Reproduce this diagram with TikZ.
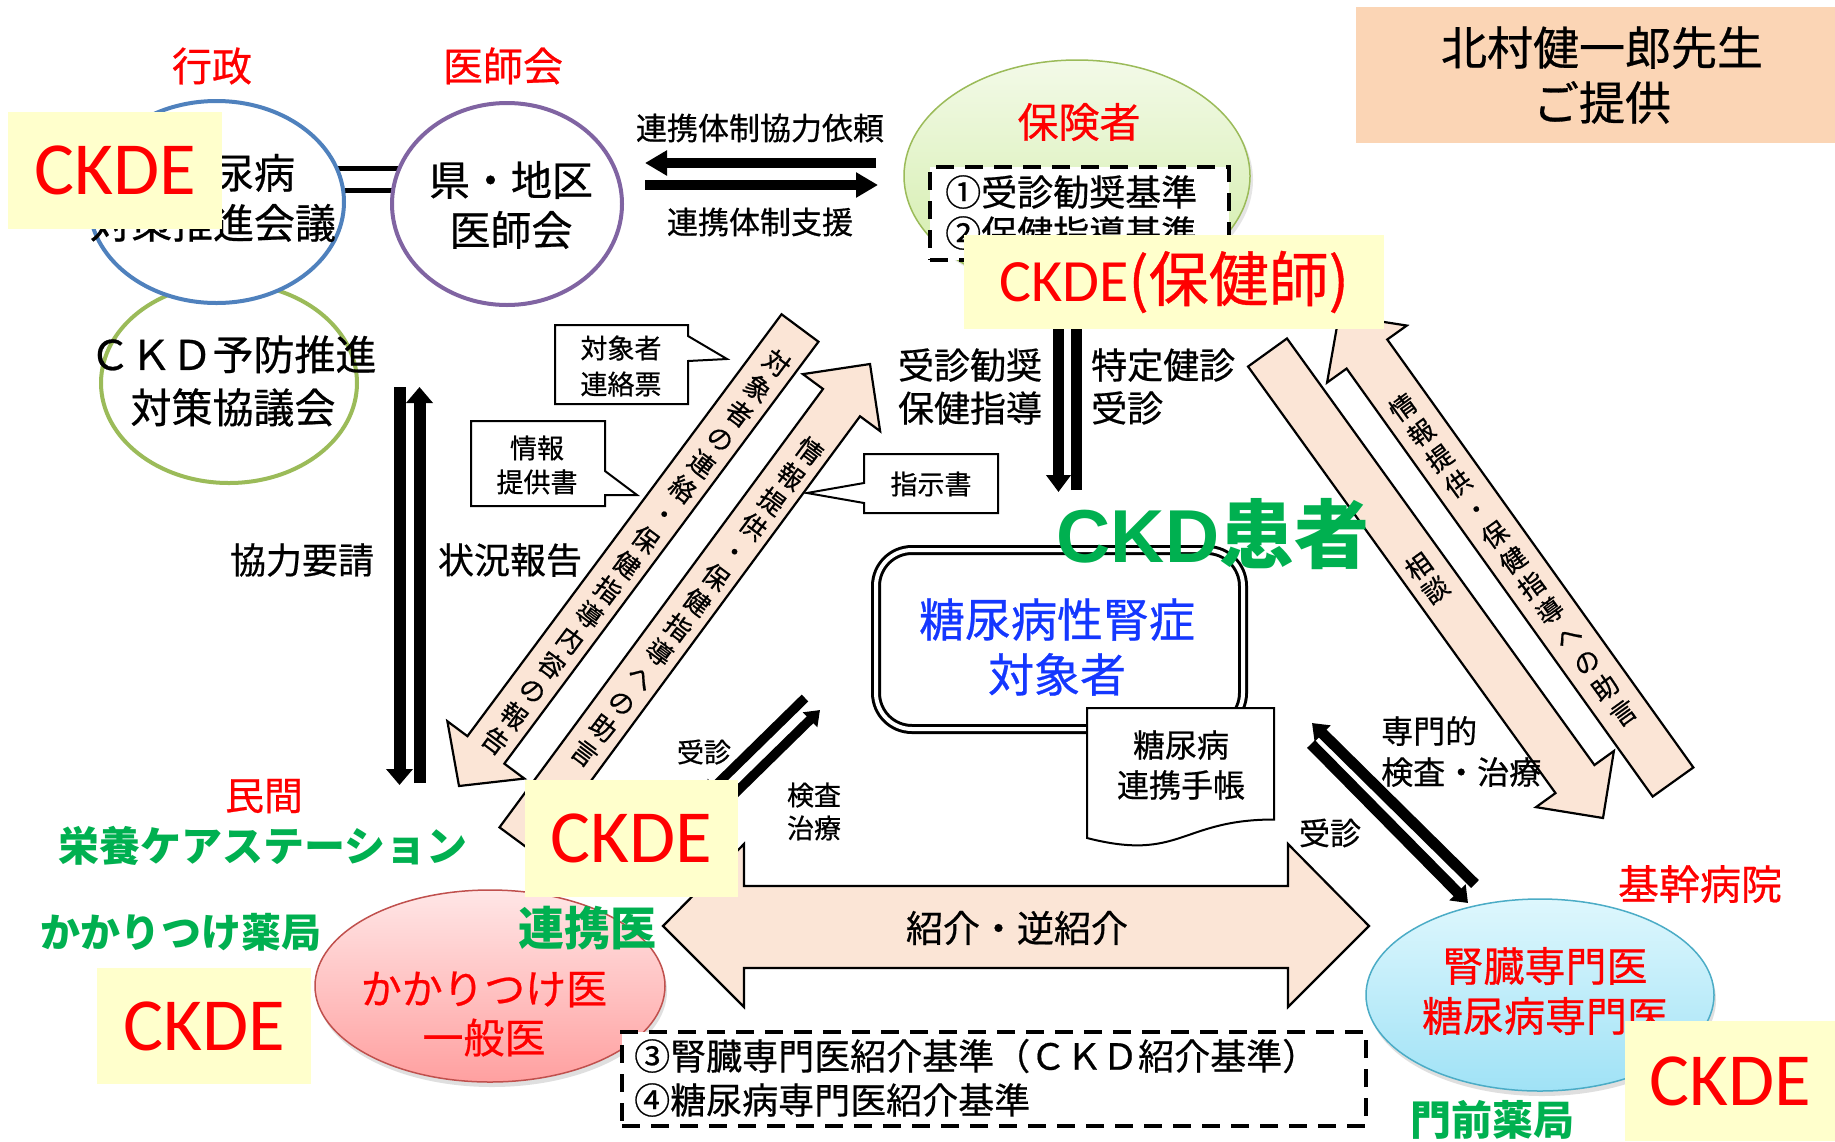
\documentclass[tikz,border=0pt]{standalone}
\usepackage{fontspec}
\setmainfont{Noto Sans CJK JP}[UprightFeatures={FakeBold=0.6}]
\newfontfamily\carl{Carlito}
\newfontfamily\arialf{Liberation Sans}
\usetikzlibrary{calc,arrows.meta,shapes.geometric,shadows}
\definecolor{ckdered}{RGB}{255,0,0}
\definecolor{ckdgreen}{RGB}{0,176,80}
\definecolor{ckdblue}{RGB}{20,55,255}
\definecolor{ckdeyel}{RGB}{255,255,204}
\definecolor{peach}{RGB}{251,229,214}
\definecolor{peachbox}{RGB}{251,213,181}
\definecolor{ellblue}{RGB}{79,129,189}
\definecolor{ellpurple}{RGB}{128,100,162}
\definecolor{ellgreen}{RGB}{155,187,89}
\definecolor{pinkborder}{RGB}{192,80,77}
\definecolor{cyanborder}{RGB}{75,172,198}
\definecolor{hokentop}{RGB}{243,250,232}
\definecolor{hokenbot}{RGB}{208,236,165}
\definecolor{pinktop}{RGB}{255,230,230}
\definecolor{pinkbot}{RGB}{255,160,160}
\definecolor{cyantop}{RGB}{222,247,253}
\definecolor{cyanbot}{RGB}{160,226,246}
\newcommand\fsz[2]{\fontsize{#1}{#2}\selectfont}
\pgfdeclarelayer{bg}
\pgfsetlayers{bg,main}
\newcommand\fatarrow[5]{%
  \path ($(#2)!#5!(#1)$) coordinate (fab);
  \draw[fat] ($(#1)!#3!90:(#2)$) -- ($(fab)!#3!90:(#2)$) -- ($(fab)!#4!90:(#2)$) -- (#2)
    -- ($(fab)!#4!-90:(#2)$) -- ($(fab)!#3!-90:(#2)$) -- ($(#1)!#3!-90:(#2)$) -- cycle;}
\begin{document}
\begin{tikzpicture}[x=1pt,y=-1pt,
  txt/.style={inner sep=0pt, align=center},
  ckdebox/.style={fill=ckdeyel, inner sep=2pt, text=ckdered, font={\carl\fsz{75}{80}}},
  fat/.style={fill=peach, draw=black, line width=2.2pt, line join=miter},
  callout/.style={draw=black, fill=white, line width=2pt},
  dashbox/.style={draw=black, fill=white, line width=4pt, dash pattern=on 18pt off 11pt},
  ring/.style={ellipse, line width=4pt, fill=white, inner sep=0pt},
  pairbar/.style={line width=12pt},
  smallbar/.style={line width=9.5pt},
]
\begin{pgfonlayer}{bg}
\fill[white] (0,0) rectangle (1835,1141);
\end{pgfonlayer}
\useasboundingbox (0,0) rectangle (1835,1141);

% credit box
\node[fill=peachbox, minimum width=479pt, minimum height=136pt, inner sep=0pt, anchor=north west] (credit) at (1356,7) {};
\node[txt, font={\fsz{46}{55}}] (credittxt) at (1602,75) {北村健一郎先生\\ご提供};

% circles top-left
\node[ring, draw=ellgreen, minimum width=256pt, minimum height=200pt] (gcirc) at (229,383) {};
\node[ring, draw=ellblue, minimum width=255pt, minimum height=202pt] (bcirc) at (216.5,202) {};
\node[ring, draw=ellpurple, minimum width=230pt, minimum height=202pt] (pcirc) at (507,204) {};
\begin{pgfonlayer}{bg}
\draw[line width=5pt, double distance=17pt] ([yshift=23pt]bcirc.center) -- ([yshift=25pt]pcirc.center);
\end{pgfonlayer}
\node[txt, font={\fsz{41}{50}}] (btxt) at (213,198) {県糖尿病\\対策推進会議};
\node[txt, font={\fsz{41}{50}}] (ptxt) at (511,205) {県・地区\\医師会};
\node[txt, font={\fsz{41}{53}}] (gtxt) at (233,381) {ＣＫＤ予防推進\\対策協議会};
\node[txt, font={\fsz{40}{48}}, text=ckdered] (gyosei) at (212,66) {行政};
\node[txt, font={\fsz{40}{48}}, text=ckdered] (ishikai) at (503,66) {医師会};

% insurer
\node[ellipse, draw=ellgreen, line width=1.5pt, top color=hokentop, bottom color=hokenbot,
  minimum width=346pt, minimum height=232pt, inner sep=0pt,
  drop shadow={shadow xshift=3pt, shadow yshift=-4pt, opacity=0.2}] (hoken) at (1077,176) {};
\node[txt, font={\fsz{41}{48}}, text=ckdered] (hokentxt) at (1079,122) {保険者};
\node[dashbox, minimum width=299pt, minimum height=93pt, inner sep=0pt, anchor=north west] (crit12) at (928,165) {};
\node[txt, anchor=west, font={\fsz{36}{40}}] (c1) at (945,192) {①受診勧奨基準};
\node[txt, anchor=west, font={\fsz{36}{40}}] (c2) at (945,233) {②保健指導基準};

% horizontal arrows between ishikai and hoken
\coordinate (h1a) at (876,163); \coordinate (h1b) at (645,163);
\coordinate (h2a) at (645,185); \coordinate (h2b) at (878,185);
\draw[line width=10pt, -{Triangle[length=22pt,width=24pt]}] (h1a) -- (h1b);
\draw[line width=10pt, -{Triangle[length=22pt,width=24pt]}] (h2a) -- (h2b);
\node[txt, font={\fsz{31}{36}}] (lreq) at (760,128) {連携体制協力依頼};
\node[txt, font={\fsz{31}{36}}] (lsup) at (760,222) {連携体制支援};

% vertical pair (council)
\coordinate (v1a) at (399.5,387); \coordinate (v1b) at (399.5,785);
\coordinate (v2a) at (419.5,783); \coordinate (v2b) at (419.5,387);
\draw[pairbar, -{Triangle[length=16pt,width=26pt]}] (v1a) -- (v1b);
\draw[pairbar, -{Triangle[length=16pt,width=26pt]}] (v2a) -- (v2b);
\node[txt, font={\fsz{36}{43}}] (kyoryoku) at (302,560) {協力要請};
\node[txt, font={\fsz{36}{43}}] (jokyo) at (510,560) {状況報告};

% vertical pair (insurer -> patient)
\coordinate (w1a) at (1058.5,322); \coordinate (w1b) at (1058.5,492);
\coordinate (w2a) at (1076.5,490); \coordinate (w2b) at (1076.5,322);
\draw[line width=11pt, -{Triangle[length=17pt,width=24pt]}] (w1a) -- (w1b);
\draw[line width=11pt] (w2a) -- (w2b);
\node[txt, font={\fsz{36}{43}}] (kanshou) at (970,386.5) {受診勧奨\\保健指導};
\node[txt, anchor=west, align=left, font={\fsz{36}{43}}] (tokutei) at (1091,386.5) {特定健診\\受診};

% callouts
\draw[callout] (555,325) -- (688,325) -- (688,336) -- (727,359) -- (688,361) -- (688,404) -- (555,404) -- cycle;
\node[txt, font={\fsz{27}{36}}] (renraku) at (621,366) {対象者\\連絡票};
\draw[callout] (471,421) -- (605,421) -- (605,471) -- (637,495) -- (605,495) -- (605,506) -- (471,506) -- cycle;
\node[txt, font={\fsz{27}{34}}] (teikyo) at (537,465) {情報\\提供書};
\draw[callout] (864,454) -- (998,454) -- (998,513) -- (864,513) -- (864,503) -- (807,493) -- (864,483) -- cycle;
\node[txt, font={\fsz{27}{32}}] (shiji) at (931,484) {指示書};

% big diagonal arrows
\coordinate (a1t) at (800,328); \coordinate (a1h) at (459,786);
\fatarrow{a1t}{a1h}{23pt}{48pt}{45pt}
\coordinate (a2t) at (518,841); \coordinate (a2h) at (870,364);
\fatarrow{a2t}{a2h}{23pt}{48pt}{48pt}
\coordinate (a3t) at (1267.5,352.5); \coordinate (a3h) at (1603,818);
\fatarrow{a3t}{a3h}{24pt}{48pt}{48pt}
\coordinate (a4t) at (1673,782); \coordinate (a4h) at (1339,315);
\fatarrow{a4t}{a4h}{25pt}{49pt}{48pt}
\node[txt, font={\fsz{26}{31.4}}, rotate=-36.7] (a1txt) at (636,552)
  {対\\象\\者\\の\\連\\絡\\・\\保\\健\\指\\導\\内\\容\\の\\報\\告};
\node[txt, font={\fsz{26}{31.4}}, rotate=-36.7] (a2txt) at (697,602)
  {情\\報\\提\\供\\・\\保\\健\\指\\導\\へ\\の\\助\\言};
\node[txt, font={\fsz{26}{29}}, rotate=35.8] (a3txt) at (1427,578) {相\\談};
\node[txt, font={\fsz{26}{31.4}}, rotate=35.8] (a4txt) at (1513,560)
  {情\\報\\提\\供\\・\\保\\健\\指\\導\\へ\\の\\助\\言};

% target box
\node[draw=black, line width=3pt, double distance=4pt, fill=white, rounded corners=36pt,
  minimum width=367pt, minimum height=179pt, inner sep=0pt] (target) at (1059.5,639.5) {};
\node[txt, font={\fsz{46}{55}}, text=ckdblue] (targettxt) at (1057,647) {糖尿病性腎症\\対象者};
\draw[line width=2pt, fill=white] (1087,708) -- (1274,708) -- (1274,819.5)
  .. controls (1180.5,819.5) and (1180.5,862) .. (1087,838) -- cycle;
\node[txt, font={\fsz{32}{40}}] (techo) at (1181,765) {糖尿病\\連携手帳};

% small pairs
\coordinate (s1a) at (805,698); \coordinate (s1b) at (705,796);
\coordinate (s2a) at (720,808); \coordinate (s2b) at (820,710);
\draw[smallbar, -{Triangle[length=14pt,width=20pt]}] (s1a) -- (s1b);
\draw[smallbar, -{Triangle[length=14pt,width=20pt]}] (s2a) -- (s2b);
\node[txt, font={\fsz{27}{33}}] (jushin1) at (704,752) {受診};
\node[txt, font={\fsz{27}{33}}] (kensa1) at (814,811.5) {検査\\治療};

\coordinate (r1a) at (1475,884); \coordinate (r1b) at (1312,723);
\coordinate (r2a) at (1311,744); \coordinate (r2b) at (1468,903);
\draw[pairbar, line width=11pt, -{Triangle[length=15pt,width=22pt]}] (r1a) -- (r1b);
\draw[pairbar, line width=11pt, -{Triangle[length=15pt,width=22pt]}] (r2a) -- (r2b);
\node[txt, anchor=west, align=left, font={\fsz{32}{41}}] (senmon) at (1381,751.5) {専門的\\検査・治療};
\node[txt, font={\fsz{31}{36}}] (jushin2) at (1330,833) {受診};

% referral double arrow
\draw[fat] (663,926) -- (744,844) -- (744,886) -- (1288,886) -- (1288,844) -- (1369,926)
  -- (1288,1007) -- (1288,968) -- (744,968) -- (744,1007) -- cycle;
\node[txt, font={\fsz{37}{44}}] (shokai) at (1017,928) {紹介・逆紹介};

% doctors
\node[ellipse, draw=pinkborder, line width=1.5pt, top color=pinktop, bottom color=pinkbot,
  minimum width=350pt, minimum height=192pt, inner sep=0pt,
  drop shadow={shadow xshift=2pt, shadow yshift=-5pt, opacity=0.25}] (gp) at (490,986) {};
\node[txt, font={\fsz{41}{49}}, text=ckdered] (gptxt) at (484,1014) {かかりつけ医\\一般医};
\node[ellipse, draw=cyanborder, line width=1.5pt, top color=cyantop, bottom color=cyanbot,
  minimum width=348pt, minimum height=192pt, inner sep=0pt,
  drop shadow={shadow xshift=2pt, shadow yshift=-5pt, opacity=0.25}] (spec) at (1540,995) {};
\node[txt, font={\fsz{41}{50}}, text=ckdered] (spectxt) at (1545,991) {腎臓専門医\\糖尿病専門医};

% criteria box
\node[dashbox, minimum width=744pt, minimum height=94pt, inner sep=0pt, anchor=north west] (crit34) at (620,1030) {};
\node[txt, anchor=west, font={\fsz{36}{40}}] (c3) at (634,1056) {③腎臓専門医紹介基準（ＣＫＤ紹介基準）};
\node[txt, anchor=west, font={\fsz{36}{40}}] (c4) at (634,1100) {④糖尿病専門医紹介基準};

% labels
\node[txt, font={\fsz{39}{46}}, text=ckdered] (minkan) at (264,796) {民間};
\node[txt, font={\bfseries\fsz{41}{48}}, text=ckdgreen] (eiyo) at (263,846) {栄養ケアステーション};
\node[txt, font={\bfseries\fsz{40}{48}}, text=ckdgreen] (yakkyoku) at (181,932) {かかりつけ薬局};
\node[txt, font={\bfseries\fsz{46}{52}}, text=ckdgreen] (renkei) at (587,928) {連携医};
\node[txt, font={\fsz{41}{48}}, text=ckdered] (kikan) at (1700,884) {基幹病院};
\node[txt, font={\bfseries\fsz{41}{48}}, text=ckdgreen] (monzen) at (1492,1120) {門前薬局};
\node[txt, font={\fsz{75}{80}}, text=ckdgreen] (patient) at (1213,534) {{\arialf\bfseries CKD}{\bfseries 患者}};

% CKDE boxes
\node[ckdebox, minimum width=214pt, minimum height=117pt] (ckde1) at (115,170.5) {CKDE};
\node[ckdebox, minimum width=214pt, minimum height=116pt] (ckde2) at (204,1026) {CKDE};
\node[ckdebox, minimum width=213pt, minimum height=117pt] (ckde3) at (631.5,838.5) {CKDE};
\node[ckdebox, minimum width=210pt, minimum height=120pt] (ckde4) at (1730,1081) {CKDE};
\node[ckdebox, minimum width=420pt, minimum height=94pt, font={\fsz{60}{66}}] (ckde5) at (1174,282) {{\carl CKDE}(保健師)};
\end{tikzpicture}
\end{document}
